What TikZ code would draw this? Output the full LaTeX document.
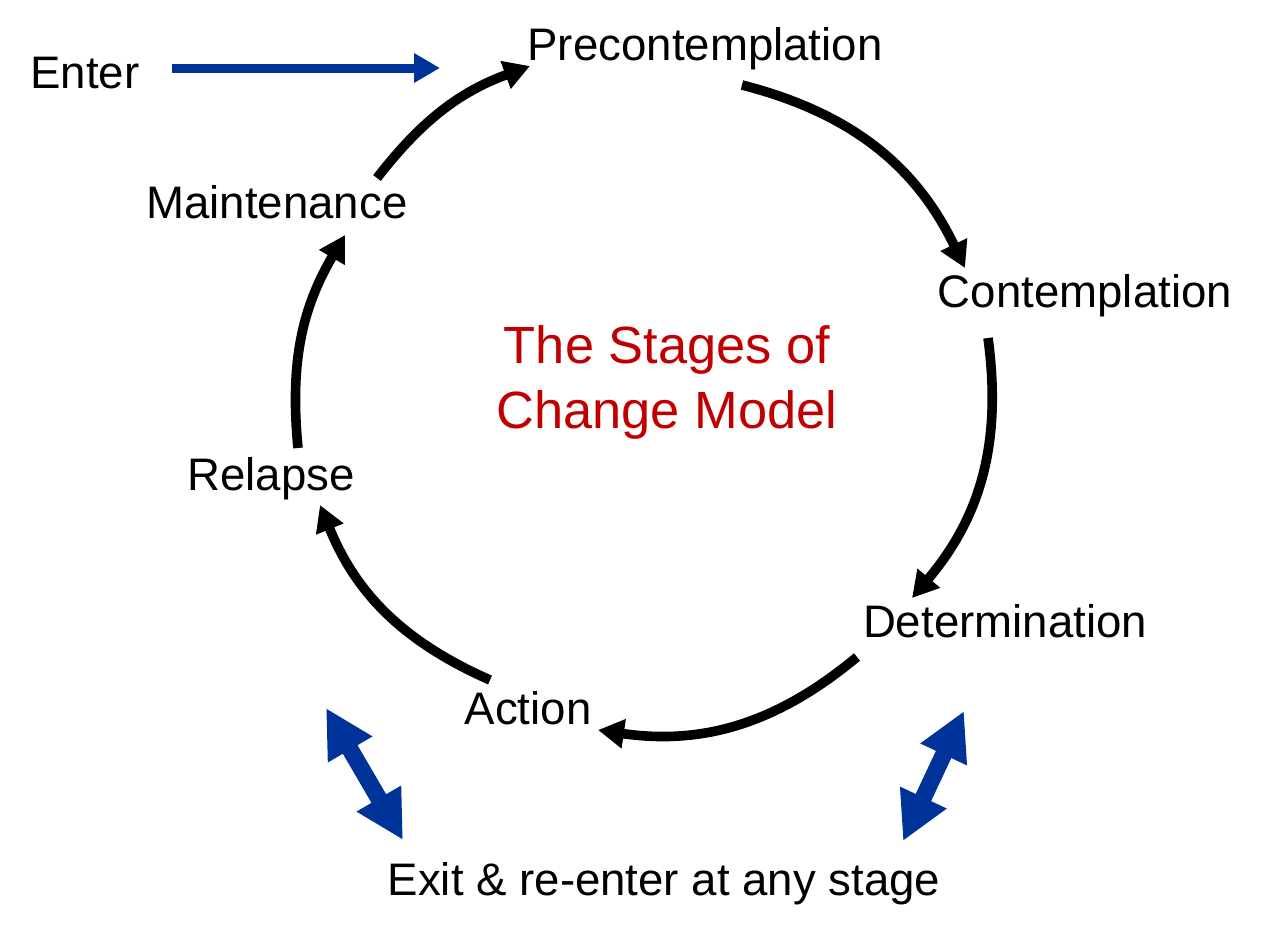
\documentclass[tikz,border=0pt]{standalone}
\usepackage{fontspec}
\setmainfont{Liberation Sans}
\usetikzlibrary{arrows.meta}
\definecolor{exitblue}{RGB}{0,51,153}
\definecolor{titlered}{RGB}{192,0,0}
\tikzstyle{stage}=[inner sep=0pt, anchor=base, font=\fontsize{22.8}{27}\selectfont]
\tikzstyle{turn}=[line width=4.8pt, -{Triangle[length=13pt,width=14pt]}]
\tikzstyle{exitarrow}=[exitblue, line width=8.5pt, {Triangle[length=24pt,width=24pt]}-{Triangle[length=24pt,width=24pt]}]

\begin{document}
\begin{tikzpicture}[x=0.5pt, y=0.5pt]
  \useasboundingbox (0,0) rectangle (1264,-937);
  % stages
  \node[stage] (enter) at (85,-88) {Enter};
  \node[stage] (pre) at (705,-60) {Precontemplation};
  \node[stage] (con) at (1085,-307) {Contemplation};
  \node[stage] (det) at (1005,-637) {Determination};
  \node[stage] (act) at (528,-724) {Action};
  \node[stage] (rel) at (271,-490) {Relapse};
  \node[stage] (main) at (277,-218) {Maintenance};
  \node[stage] (exit) at (664,-895) {Exit \& re-enter at any stage};
  \node[inner sep=0pt, align=center, text=titlered, font=\fontsize{26.2}{32.5}\selectfont] (title) at (667,-382) {The Stages of\\Change Model};
  % ends of the arrows
  \coordinate (m1) at (377,-178);  \coordinate (p0) at (530,-66);
  \coordinate (p1) at (742,-85);   \coordinate (c0) at (965,-268);
  \coordinate (c1) at (988,-338);  \coordinate (d0) at (912,-598);
  \coordinate (d1) at (857,-657);  \coordinate (a0) at (598,-730);
  \coordinate (a1) at (490,-680);  \coordinate (r0) at (320,-505);
  \coordinate (r1) at (298,-448);  \coordinate (m0) at (345,-235);
  \coordinate (e1) at (172,-68);   \coordinate (e0) at (440,-68);
  \coordinate (xl0) at (326,-708); \coordinate (xl1) at (403,-840);
  \coordinate (xr0) at (964,-711); \coordinate (xr1) at (903,-841);
  % the cycle
  \draw[turn] (m1) to[bend left=16] (p0);
  \draw[turn] (p1) to[bend left=25] (c0);
  \draw[turn] (c1) to[bend left=24] (d0);
  \draw[turn] (d1) to[bend left=24] (a0);
  \draw[turn] (a1) to[bend left=22] (r0);
  \draw[turn] (r1) to[bend left=18] (m0);
  % in and out
  \draw[exitblue, line width=4.5pt, -{Triangle[length=13pt,width=14pt]}] (e1) -- (e0);
  \draw[exitarrow] (xl0) -- (xl1);
  \draw[exitarrow] (xr0) -- (xr1);
\end{tikzpicture}
\end{document}
